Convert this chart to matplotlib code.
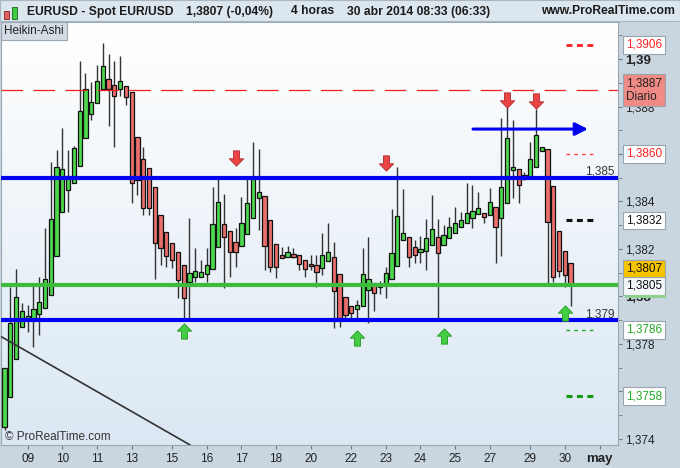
import numpy as np
import matplotlib
matplotlib.use('Agg')
import matplotlib.pyplot as plt
import matplotlib.transforms as mtransforms
from matplotlib.path import Path
from matplotlib.patches import Rectangle
from matplotlib.colors import LinearSegmentedColormap

plt.rcParams['font.family'] = ['Liberation Sans', 'DejaVu Sans']
plt.rcParams['lines.scale_dashes'] = False

# Heikin-Ashi 4h candles EUR/USD, 8 -> 30 abr 2014
ha_open = [1.37450, 1.37577, 1.37737, 1.37872, 1.37905, 1.37901, 1.37926, 1.37952, 1.38006, 1.38171,
           1.38356, 1.38448, 1.38478, 1.38549, 1.38667, 1.38768, 1.38815, 1.38874, 1.38916, 1.38891,
           1.38874, 1.38886, 1.38861, 1.38672, 1.38579, 1.38541, 1.38461, 1.38343, 1.38272, 1.38225,
           1.38187, 1.38133, 1.38061, 1.38082, 1.38083, 1.38095, 1.38116, 1.38208, 1.38305, 1.38276,
           1.38229, 1.38213, 1.38263, 1.38331, 1.38415, 1.38423, 1.38322, 1.38221, 1.38175, 1.38166,
           1.38179, 1.38175, 1.38154, 1.38137, 1.38133, 1.38120, 1.38149, 1.38166, 1.38095, 1.37998,
           1.37960, 1.37947, 1.37960, 1.38027, 1.38057, 1.38040, 1.38048, 1.38074, 1.38128, 1.38238,
           1.38251, 1.38208, 1.38187, 1.38192, 1.38217, 1.38251, 1.38217, 1.38246, 1.38267, 1.38293,
           1.38309, 1.38331, 1.38347, 1.38352, 1.38343, 1.38377, 1.38331, 1.38394, 1.38533, 1.38537,
           1.38503, 1.38503, 1.38545, 1.38613, 1.38621, 1.38465, 1.38276, 1.38192, 1.38141]
ha_high = [1.37700, 1.38040, 1.38116, 1.37973, 1.37964, 1.38048, 1.38082, 1.38288, 1.38566, 1.38617,
           1.38709, 1.38617, 1.38634, 1.38992, 1.38941, 1.38903, 1.38975, 1.39067, 1.39021, 1.38992,
           1.39013, 1.38886, 1.38861, 1.38672, 1.38629, 1.38541, 1.38461, 1.38343, 1.38272, 1.38225,
           1.38187, 1.38133, 1.38331, 1.38204, 1.38154, 1.38204, 1.38461, 1.38507, 1.38432, 1.38276,
           1.38288, 1.38419, 1.38495, 1.38651, 1.38621, 1.38423, 1.38322, 1.38221, 1.38208, 1.38213,
           1.38204, 1.38175, 1.38154, 1.38175, 1.38175, 1.38267, 1.38309, 1.38229, 1.38095, 1.37998,
           1.37960, 1.37985, 1.38204, 1.38251, 1.38057, 1.38065, 1.38124, 1.38368, 1.38545, 1.38453,
           1.38251, 1.38238, 1.38255, 1.38326, 1.38427, 1.38326, 1.38301, 1.38335, 1.38377, 1.38356,
           1.38478, 1.38469, 1.38440, 1.38352, 1.38457, 1.38377, 1.38752, 1.38798, 1.38743, 1.38537,
           1.38524, 1.38651, 1.38789, 1.38629, 1.38621, 1.38465, 1.38276, 1.38192, 1.38141]
ha_low = [1.37438, 1.37577, 1.37737, 1.37872, 1.37851, 1.37787, 1.37838, 1.37952, 1.38006, 1.38171,
          1.38356, 1.38356, 1.38478, 1.38549, 1.38667, 1.38743, 1.38815, 1.38874, 1.38718, 1.38629,
          1.38844, 1.38806, 1.38394, 1.38427, 1.38343, 1.38343, 1.38074, 1.38133, 1.38124, 1.38120,
          1.37994, 1.37901, 1.37901, 1.38061, 1.38083, 1.38061, 1.38116, 1.38208, 1.38036, 1.38082,
          1.38124, 1.38213, 1.38263, 1.38331, 1.38280, 1.38112, 1.38103, 1.38078, 1.38162, 1.38166,
          1.38162, 1.38112, 1.38082, 1.38112, 1.38040, 1.38091, 1.38149, 1.37867, 1.37872, 1.37909,
          1.37909, 1.37901, 1.37960, 1.37888, 1.37939, 1.38011, 1.37994, 1.38074, 1.38128, 1.38238,
          1.38124, 1.38141, 1.38141, 1.38112, 1.38217, 1.37901, 1.38217, 1.38246, 1.38267, 1.38293,
          1.38309, 1.38288, 1.38347, 1.38309, 1.38343, 1.38141, 1.38171, 1.38394, 1.38415, 1.38394,
          1.38491, 1.38503, 1.38545, 1.38613, 1.38044, 1.38061, 1.38082, 1.38040, 1.37960]
ha_close = [1.37700, 1.37888, 1.37998, 1.37939, 1.37918, 1.37947, 1.37977, 1.38074, 1.38326, 1.38545,
            1.38537, 1.38507, 1.38625, 1.38781, 1.38874, 1.38819, 1.38907, 1.38971, 1.38874, 1.38844,
            1.38907, 1.38840, 1.38478, 1.38491, 1.38373, 1.38373, 1.38225, 1.38204, 1.38171, 1.38154,
            1.38069, 1.37994, 1.38099, 1.38107, 1.38104, 1.38133, 1.38305, 1.38398, 1.38251, 1.38187,
            1.38187, 1.38309, 1.38394, 1.38495, 1.38440, 1.38213, 1.38124, 1.38124, 1.38162, 1.38187,
            1.38166, 1.38137, 1.38116, 1.38128, 1.38103, 1.38175, 1.38187, 1.38023, 1.37909, 1.37922,
            1.37931, 1.37964, 1.38095, 1.38074, 1.38015, 1.38053, 1.38099, 1.38183, 1.38339, 1.38267,
            1.38166, 1.38175, 1.38200, 1.38246, 1.38284, 1.38183, 1.38259, 1.38293, 1.38309, 1.38322,
            1.38352, 1.38360, 1.38373, 1.38335, 1.38398, 1.38293, 1.38461, 1.38667, 1.38545, 1.38469,
            1.38512, 1.38579, 1.38680, 1.38629, 1.38314, 1.38082, 1.38107, 1.38091, 1.38053]

day_pos = [4, 10, 16, 22, 29, 35, 41, 47, 53, 60, 66, 72, 78, 84, 91, 97, 103]
day_labels = ['09', '10', '11', '13', '15', '16', '17', '18', '20', '22', '23', '24', '25', '27', '29', '30', 'may']

blue_levels = [1.385, 1.379]
green_level = 1.3805
daily_level = 1.3887

sell_x = [40, 66, 87, 92]
sell_y = [1.38583, 1.38562, 1.38827, 1.38823]
buy_x = [31, 61, 76, 97]
buy_y = [1.37855, 1.37825, 1.37834, 1.37931]

trend_x = [-0.8, 32.1]
trend_y = [1.37834, 1.37375]
arrow_x = [81.1, 101.0]
arrow_y = 1.38705

# short dashed pivot marks near the right edge
pivot_vals = [1.3906, 1.3860, 1.3832, 1.3786, 1.3758]
pivot_cols = ['#ff2020', '#ff4040', '#111111', '#22aa22', '#119911']
pivot_lw = [2.0, 1.0, 2.2, 1.0, 2.2]
pivot_dash = [(4.3, 3.2), (2.6, 3.0), (4.3, 3.2), (2.6, 3.0), (4.3, 3.2)]
pivot_x = [97.2, 102.3]

box_vals = ['1,3906', '1,3887\nDiario', '1,3860', '1,3832', '1,3807', '1,3805', '1,3786', '1,3758']
box_y = [1.3906, 1.3887, 1.3860, 1.3832, 1.3807, 1.3805, 1.3786, 1.3758]
box_shift = [0, 0, 0, 0, 11, -1, 0, 0]   # pixels, labels pushed apart
box_fc = ['white', '#f08a84', 'white', 'white', '#f7c400', '#f4f7fa', 'white', 'white']
box_tc = ['#ff2020', '#222222', '#ff2020', '#111111', '#111111', '#111111', '#22aa22', '#22aa22']

W, H = 680, 468
fig = plt.figure(figsize=(W / 100, H / 100), dpi=100)
fig.patch.set_facecolor('#c9d6e0')


def fx(px):
    return px / W


def fy(py):
    return 1 - py / H


# header band
fig.add_artist(Rectangle((0, fy(21)), 1, 1 - fy(21), transform=fig.transFigure,
                         facecolor='#dce6ee', edgecolor='#aab6c0', lw=0.8, zorder=0))
# little candle icon
fig.add_artist(Rectangle((fx(4), fy(19)), fx(5), fy(11) - fy(19), transform=fig.transFigure,
                         facecolor='#e86060', edgecolor='#802020', lw=0.6))
fig.add_artist(Rectangle((fx(12), fy(19)), fx(5), fy(7) - fy(19), transform=fig.transFigure,
                         facecolor='#40cc40', edgecolor='#206020', lw=0.6))
hdr = dict(fontsize=8.7, fontweight='bold', va='center', color='#1a1a1a')
fig.text(fx(27), fy(11.5), 'EURUSD - Spot EUR/USD', **hdr)
fig.text(fx(186), fy(11.5), '1,3807 (-0,04%)', **hdr)
fig.text(fx(291), fy(11.5), '4 horas', **hdr)
fig.text(fx(347), fy(11.5), '30 abr 2014 08:33 (06:33)', **hdr)
fig.text(fx(675), fy(11.5), 'www.ProRealTime.com', ha='right', **hdr)

ax = fig.add_axes([fx(1), fy(445), fx(618) - fx(1), fy(22) - fy(445)])

grad = LinearSegmentedColormap.from_list('bg', ['#dbe8f3', '#ffffff'])
ax.imshow(np.linspace(0, 1, 200).reshape(-1, 1), extent=[0, 1, 0, 1], transform=ax.transAxes,
          cmap=grad, aspect='auto', origin='lower', zorder=0)

o = np.array(ha_open)
hi = np.array(ha_high)
lo = np.array(ha_low)
c = np.array(ha_close)
x = np.arange(len(o))
up = c >= o

ax.vlines(x, lo, hi, color='#333333', lw=1.0, zorder=3)
ax.bar(x, np.abs(c - o), bottom=np.minimum(o, c), width=0.74,
       color=np.where(up, '#4cd84c', '#ea6f6c'), edgecolor='#111111', linewidth=0.9, zorder=4)

for lv in blue_levels:
    ax.axhline(lv, color='#0000ee', lw=3.0, zorder=5)
ax.axhline(green_level, color='#3dbb3d', lw=3.0, zorder=5)
ax.axhline(daily_level, color='#ee2020', lw=0.9, dashes=(15.5, 7.5), zorder=5)

ax.plot(trend_x, trend_y, color='#333333', lw=1.2, zorder=5)

ax.annotate('', xy=(arrow_x[1], arrow_y), xytext=(arrow_x[0], arrow_y),
            arrowprops=dict(arrowstyle='-|>,head_length=0.75,head_width=0.38',
                            color='#0000ee', lw=2.2, mutation_scale=10, shrinkA=0, shrinkB=0),
            zorder=6)

for v, col, lw, ds in zip(pivot_vals, pivot_cols, pivot_lw, pivot_dash):
    ax.plot(pivot_x, [v, v], color=col, lw=lw, dashes=ds, zorder=5)

up_arrow = Path([(-0.2, -0.5), (0.2, -0.5), (0.2, 0.02), (0.47, 0.02), (0, 0.5),
                 (-0.47, 0.02), (-0.2, 0.02), (-0.2, -0.5)], closed=True)
dn_arrow = Path([(px_, -py_) for px_, py_ in up_arrow.vertices], closed=True)
ax.plot(sell_x, sell_y, ls='none', marker=dn_arrow, ms=11, mfc='#ea4444', mec='#b02a2a', mew=0.6, zorder=7)
ax.plot(buy_x, buy_y, ls='none', marker=up_arrow, ms=11, mfc='#44cc44', mec='#239a23', mew=0.6, zorder=7)

ax.text(614 / 617, blue_levels[0], '1,385', transform=mtransforms.blended_transform_factory(ax.transAxes, ax.transData),
        ha='right', va='bottom', fontsize=8.5, color='#333333', zorder=6)
ax.text(614 / 617, blue_levels[1], '1,379', transform=mtransforms.blended_transform_factory(ax.transAxes, ax.transData),
        ha='right', va='bottom', fontsize=8.5, color='#333333', zorder=6)
ax.text(4 / 617, 8 / 423, '\u00a9 ProRealTime.com', transform=ax.transAxes, fontsize=8.5,
        color='#333333', va='center', zorder=6)
ax.text(3 / 617, (423 - 9) / 423, 'Heikin-Ashi', transform=ax.transAxes, fontsize=8.5, color='#222222',
        va='center', zorder=8,
        bbox=dict(boxstyle='square,pad=0.25', fc='#d3dbe3', ec='#9aa6b2', lw=0.8))

ax.set_xlim(-0.62, 106.2)
ax.set_ylim(1.373747, 1.391558)

# axes styling
for sp in ax.spines.values():
    sp.set_color('#9aa8b4')
    sp.set_linewidth(0.8)
ax.yaxis.tick_right()
yt = [1.374, 1.376, 1.378, 1.380, 1.382, 1.384, 1.386, 1.388, 1.390]
hidden = [1.376, 1.386]   # covered by the price boxes in the original
ax.set_yticks(yt)
ylab = ['' if v in hidden else ('%.3f' % v).rstrip('0').replace('.', ',') for v in yt]
ax.set_yticklabels(ylab)
ax.set_yticks([1.375, 1.377, 1.379, 1.381, 1.383, 1.385, 1.387, 1.389, 1.391], minor=True)
ax.tick_params(axis='y', which='both', right=True, left=False, length=3, color='#6f7c88',
               labelsize=8.5, pad=2, labelcolor='#222222')
for t in ax.get_yticklabels():
    if t.get_text() in ('1,39', '1,38'):
        t.set_fontweight('bold')
        t.set_fontsize(9.5)
ax.set_xticks(day_pos)
ax.set_xticklabels(day_labels)
ax.tick_params(axis='x', length=3, color='#6f7c88', labelsize=8.5, pad=2.5, labelcolor='#222222')
for t in ax.get_xticklabels():
    if t.get_text() == 'may':
        t.set_fontweight('bold')
        t.set_fontsize(9.5)

# price boxes on the right scale
btrans = mtransforms.blended_transform_factory(fig.transFigure, ax.transData)
for txt, yv, sh, fc, tc in zip(box_vals, box_y, box_shift, box_fc, box_tc):
    tr = mtransforms.offset_copy(btrans, fig=fig, x=0, y=sh, units='dots')
    ax.text(fx(626), yv, txt, transform=tr, ha='left', va='center', fontsize=8.5, color=tc,
            linespacing=1.15, clip_on=False, zorder=10,
            bbox=dict(boxstyle='square,pad=0.25', fc=fc, ec='#9aa4ae', lw=0.8))
fig.add_artist(Rectangle((fx(625), fy(298)), fx(41), fy(295) - fy(298), transform=fig.transFigure,
                         facecolor='#8fd08f', edgecolor='none', zorder=11))

fig.savefig('out.png', dpi=100)
